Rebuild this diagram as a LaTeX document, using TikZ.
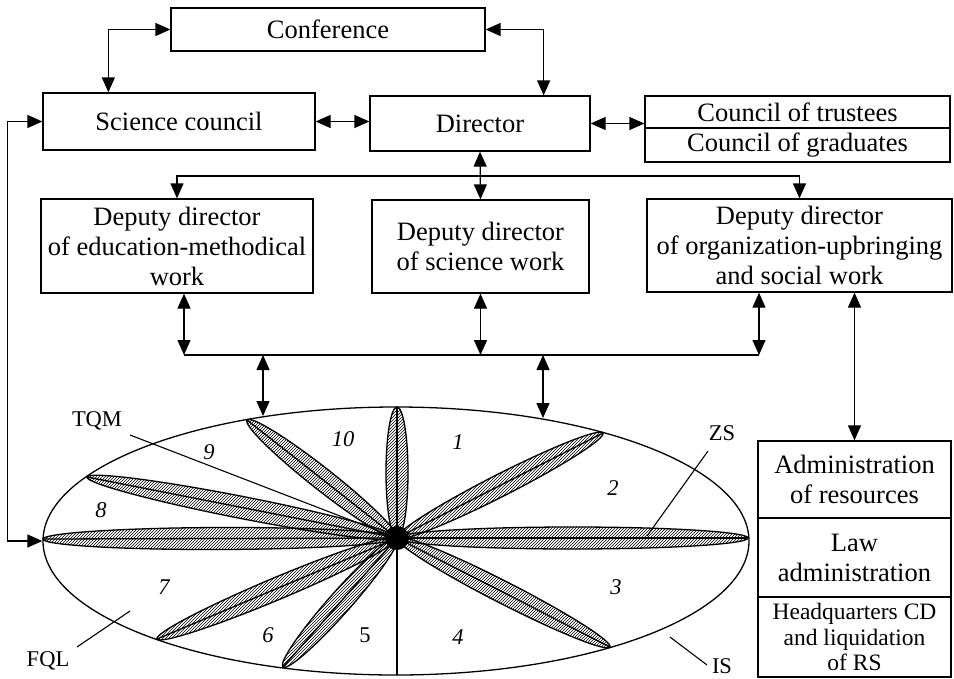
\documentclass[tikz,border=0pt]{standalone}
\usepackage{fontspec}
\setmainfont{Liberation Serif}
\usetikzlibrary{arrows.meta,shapes.geometric,patterns,calc}

\begin{document}
\begin{tikzpicture}[x=1pt, y=-1pt, line width=1.3pt,
  >={Triangle[length=15pt,width=13pt]}]
\tikzstyle{box} = [draw, align=center, inner sep=0pt, font=\fontsize{26.5}{30}\selectfont]
\tikzstyle{hqtext} = [font=\fontsize{23.5}{25.5}\selectfont]
\tikzstyle{lbl} = [font=\fontsize{22.5}{24}\selectfont, inner sep=0pt]
\tikzstyle{numlbl} = [font=\fontsize{22.5}{24}\selectfont\itshape, inner sep=0pt]
\tikzstyle{petal} = [draw, ellipse, inner sep=0pt, minimum height=22pt, pattern=north east lines, pattern color=black]
\useasboundingbox (0,0) rectangle (954,678);

% top of the chart
\node[box, minimum width=314, minimum height=43] (conf) at (328,29.5) {Conference};
\node[box, minimum width=272, minimum height=57] (sci) at (179,121.5) {Science council};
\node[box, minimum width=220, minimum height=55] (dir) at (480,123.5) {Director};
\node[box, minimum width=305, minimum height=32] (trust) at (797.5,112) {Council of trustees};
\node[box, minimum width=305, minimum height=34] (grad) at (797.5,145) {Council of graduates};

\node[box, minimum width=272, minimum height=94] (dedu) at (177,246) {Deputy director\\of education-methodical\\work};
\node[box, minimum width=217, minimum height=93] (dsci) at (480.5,246.5) {Deputy director\\of science work};
\node[box, minimum width=305, minimum height=93] (dorg) at (799.5,245.5) {Deputy director\\of organization-upbringing\\and social work};

\node[box, minimum width=193, minimum height=77] (adm) at (854.5,479.5) {Administration\\of resources};
\node[box, minimum width=193, minimum height=79] (law) at (854.5,557.5) {Law\\administration};
\node[box, hqtext, minimum width=193, minimum height=80] (hq) at (854.5,637) {Headquarters CD\\and liquidation\\of RS};

\draw[<->] (conf.west) -| ([xshift=66pt]sci.north west);
\draw[<->] (conf.east) -| ([xshift=-47pt]dir.north east);
\draw[<->] (sci.east) -- (sci.east -| dir.west);
\draw[<->] (dir.east) -- (dir.east -| grad.west);

\coordinate (tb) at (480,176);
\draw[->] (tb) -| (dedu.north);
\draw[->] (tb) -| (dorg.north);
\draw[<->] (dir.south) -- (dsci.north);

\coordinate (bb1) at (184,355);
\coordinate (bb3) at (759,355);
\draw (bb1) -- (bb3);
\draw[<->] (dedu.south -| bb1) -- (bb1);
\draw[<->] (dsci.south) -- (dsci.south |- bb1);
\draw[<->] (dorg.south -| bb3) -- (bb3);

% the flower
\node[draw, ellipse, inner sep=0pt, minimum width=706, minimum height=268] (is) at (396,541) {};
\coordinate (c) at (397,538);
\coordinate (bb4) at (263,355);
\coordinate (e1) at (263,416);
\coordinate (bb5) at (543,355);
\coordinate (e2) at (543,418);
\draw[<->] (bb4) -- (e1);
\draw[<->] (bb5) -- (e2);
\draw[<->] (sci.west) -- ++(-35,0) |- (is.west);
\draw[<->] (dorg.south -| adm.north) -- (adm.north);

\coordinate (p1) at (397,407);
\coordinate (p2) at (247,420);
\coordinate (p3) at (87,477);
\coordinate (p4) at (43,539);
\coordinate (p5) at (157,639);
\coordinate (p6) at (283,667);
\coordinate (p7) at (610,647);
\coordinate (p8) at (748,538);
\coordinate (p9) at (603,433);
\coordinate (p0) at (397,675);

\foreach \tip/\ang/\len in {p1/90/131, p2/141.8/190.9, p3/168.9/316, p4/180.2/354,
  p5/202.8/260.4, p6/228.5/172.2, p7/332.9/239.3, p8/0/351, p9/27/231.2}{
  \node[petal, minimum width=\len, rotate=\ang] at ($(c)!0.5!(\tip)$) {};
  \draw (c) -- (\tip);
}
\draw (c) -- (p0);
\fill (c) circle (12pt);

% labels
\coordinate (tqm0) at (130,435);
\coordinate (fql0) at (77,647);
\coordinate (fql1) at (130,611);
\coordinate (zs0) at (708,451);
\coordinate (zs1) at (647,536);
\coordinate (is0) at (670,637);
\coordinate (is1) at (707,665);
\draw[line width=1.1pt] (tqm0) -- (c);
\draw[line width=1.1pt] (fql0) -- (fql1);
\draw[line width=1.1pt] (zs0) -- (zs1);
\draw[line width=1.1pt] (is0) -- (is1);
\node[lbl] (tqm) at (97,421) {TQM};
\node[lbl] (fql) at (48,661) {FQL};
\node[lbl] (zs) at (722,433) {ZS};
\node[lbl] (isl) at (722,666) {IS};

\node[numlbl] (n1) at (458,442) {1};
\node[numlbl] (n2) at (613,488) {2};
\node[numlbl] (n3) at (616,587) {3};
\node[numlbl] (n4) at (458,637) {4};
\node[lbl] (n5) at (365,635) {5};
\node[numlbl] (n6) at (268,635) {6};
\node[numlbl] (n7) at (164,587) {7};
\node[numlbl] (n8) at (101,510) {8};
\node[numlbl] (n9) at (209,452) {9};
\node[numlbl] (n10) at (343,439) {10};
\end{tikzpicture}
\end{document}
